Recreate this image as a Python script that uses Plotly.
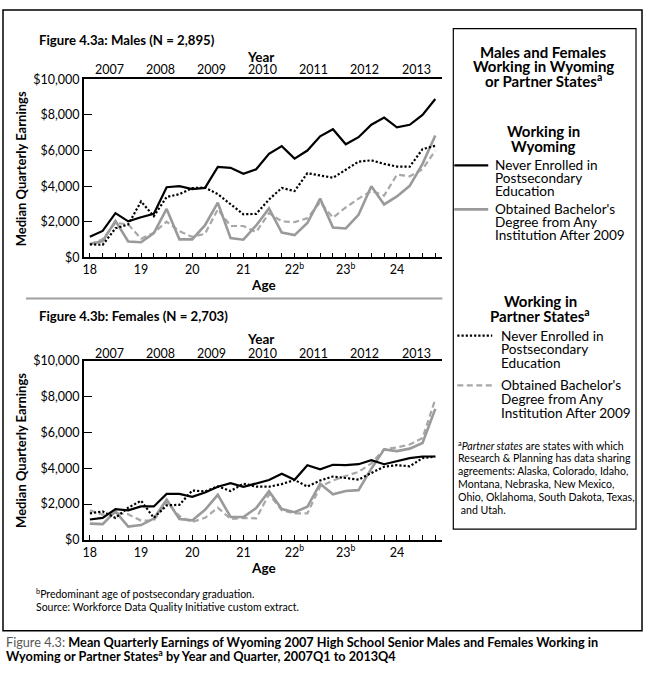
import plotly.graph_objects as go

# ---------------- data ----------------
ages = [18.0, 18.25, 18.5, 18.75, 19.0, 19.25, 19.5, 19.75, 20.0, 20.25, 20.5, 20.75,
        21.0, 21.25, 21.5, 21.75, 22.0, 22.25, 22.5, 22.75, 23.0, 23.25, 23.5, 23.75,
        24.0, 24.25, 24.5, 24.75]
age_tick_values = [18, 19, 20, 21, 22, 23, 24]
age_tick_labels = ["18", "19", "20", "21", "22<sup>b</sup>", "23<sup>b</sup>", "24"]
years = ["2007", "2008", "2009", "2010", "2011", "2012", "2013"]
year_centers = [18.375, 19.375, 20.375, 21.375, 22.375, 23.375, 24.375]
y_ticks = [0, 2000, 4000, 6000, 8000, 10000]
y_tick_labels = ["$0", "$2,000", "$4,000", "$6,000", "$8,000", "$10,000"]

# Males
m_wy_never = [1150, 1480, 2480, 2020, 2250, 2450, 3940, 4000, 3830, 3900, 5080, 5030,
              4690, 4950, 5820, 6250, 5550, 6000, 6800, 7200, 6350, 6750, 7450, 7850,
              7300, 7450, 8000, 8900]
m_wy_ba = [740, 910, 2050, 890, 850, 1360, 2720, 1010, 1010, 1810, 3070, 1080,
           990, 1790, 2750, 1390, 1250, 1930, 3300, 1670, 1620, 2390, 3990, 2970,
           3420, 4020, 5250, 6850]
m_ps_never = [730, 700, 1630, 1850, 3140, 2310, 3390, 3550, 3890, 3920, 3550, 2990,
              2420, 2440, 3250, 3900, 3720, 4730, 4590, 4470, 4920, 5380, 5450, 5250,
              5100, 5090, 6080, 6270]
m_ps_ba = [740, 1010, 1940, 1850, 1050, 1380, 2010, 1470, 1150, 1320, 2700, 1760,
           1760, 1420, 2480, 2020, 1980, 2200, 3100, 2230, 2800, 3300, 3730, 3470,
           4650, 4550, 4950, 6000]

# Females
f_wy_never = [1140, 1230, 1720, 1650, 1870, 1870, 2570, 2570, 2410, 2650, 2970, 3170,
              2960, 3170, 3350, 3700, 3360, 4170, 3940, 4200, 4180, 4230, 4450, 4230,
              4380, 4570, 4660, 4660]
f_wy_ba = [910, 880, 1590, 740, 830, 1190, 2250, 1170, 1090, 1680, 2520, 1280,
           1280, 1780, 2720, 1720, 1550, 1850, 3140, 2550, 2730, 2780, 3980, 5060,
           4960, 5100, 5420, 7320]
f_ps_never = [1480, 1590, 1230, 1800, 2190, 1230, 1930, 1960, 2760, 2710, 2990, 2730,
              3140, 2980, 2970, 3120, 3350, 2980, 3320, 3540, 3460, 3370, 3740, 4090,
              4180, 4110, 4570, 4660]
f_ps_ba = [1650, 1410, 1500, 1430, 1080, 1080, 2140, 1330, 1000, 1230, 1800, 1170,
           1230, 1200, 2550, 1660, 1480, 1480, 2980, 3320, 3570, 3800, 4280, 5060,
           5170, 5330, 5690, 7860]

# ---------------- helpers ----------------
W, H = 645, 674
FONT = "Lato, 'Open Sans', sans-serif"


def fx(px):
    return px / W


def fy(py):
    return 1 - py / H


GRAY = "#9a9a9a"
GRAY_D = "#a8a8a8"

styles = {
    "ps_ba": dict(color=GRAY_D, width=2.2, dash="6px,3.5px"),
    "wy_ba": dict(color=GRAY, width=2.6),
    "ps_never": dict(color="black", width=2.2, dash="2.2px,2px"),
    "wy_never": dict(color="black", width=2.2),
}

fig = go.Figure()

panels = [
    ("x", "y", dict(ps_ba=m_ps_ba, wy_ba=m_wy_ba, ps_never=m_ps_never, wy_never=m_wy_never)),
    ("x2", "y2", dict(ps_ba=f_ps_ba, wy_ba=f_wy_ba, ps_never=f_ps_never, wy_never=f_wy_never)),
]
for xa, ya, series in panels:
    for key in ["ps_ba", "wy_ba", "ps_never", "wy_never"]:
        fig.add_trace(go.Scatter(x=ages, y=series[key], mode="lines", line=styles[key],
                                 xaxis=xa, yaxis=ya, showlegend=False, hoverinfo="skip"))

xaxis_common = dict(
    range=[17.883, 24.887], showline=True, linecolor="black", linewidth=1.5, mirror=True,
    ticks="inside", ticklen=5, tickwidth=1.2, tickcolor="black",
    tickmode="array", tickvals=age_tick_values, ticktext=age_tick_labels,
    minor=dict(tickmode="array", tickvals=ages, ticks="inside", ticklen=5, tickwidth=1.2,
               tickcolor="black", showgrid=False),
    tickfont=dict(family=FONT, size=12.5, color="black"),
    showgrid=False, zeroline=False,
)
yaxis_common = dict(
    range=[0, 10000], showline=True, linecolor="black", linewidth=1.5,
    ticks="inside", ticklen=8, tickwidth=1.2, tickcolor="black",
    tickmode="array", tickvals=y_ticks, ticktext=y_tick_labels,
    tickfont=dict(family=FONT, size=12.5, color="black"),
    showgrid=False, zeroline=False,
)

fig.update_layout(
    width=W, height=H, autosize=False,
    margin=dict(l=0, r=0, t=0, b=0),
    paper_bgcolor="white", plot_bgcolor="white",
    xaxis=dict(domain=[fx(83), fx(442)], anchor="y", **xaxis_common),
    yaxis=dict(domain=[fy(255), fy(73)], anchor="x", **yaxis_common),
    xaxis2=dict(domain=[fx(83), fx(442)], anchor="y2", **xaxis_common),
    yaxis2=dict(domain=[fy(544), fy(361)], anchor="x2", **yaxis_common),
)

ann = []


def text(x, y, t, size=13, bold=False, xanchor="left", family=FONT, color="black",
         xref="paper", angle=0):
    ann.append(dict(x=x if xref != "paper" else fx(x), y=fy(y), xref=xref, yref="paper",
                    text=("<b>%s</b>" % t) if bold else t, showarrow=False,
                    xanchor=xanchor, yanchor="middle", textangle=angle,
                    font=dict(family=family, size=size, color=color)))


# panel texts
for (ttl, ty, yr_y, year_title_y, age_y, ycenter, xref) in [
    ("Figure 4.3a: Males (N = 2,895)", 33, 63, 50, 283, 164, "x"),
    ("Figure 4.3b: Females (N = 2,703)", 315, 353, 339, 573, 452, "x2"),
]:
    text(36, ty, ttl, size=13.2, bold=True)
    text(260, year_title_y, "Year", size=13.5, bold=True, xanchor="center")
    for yv, yc in zip(years, year_centers):
        text(yc, yr_y, yv, size=12.5, xanchor="center", xref=xref)
    text(263, age_y, "Age", size=13.5, bold=True, xanchor="center")
    text(20, ycenter, "Median Quarterly Earnings", size=13, bold=True, xanchor="center", angle=-90)

# footnotes
text(33, 599, "<sup>b</sup>Predominant age of postsecondary graduation.", size=10.5)
text(33, 613, "Source: Workforce Data Quality Initiative custom extract.", size=10.5)

# caption
text(3, 648, "<span style='color:#555555'>Figure 4.3:</span> <b>Mean Quarterly Earnings of Wyoming 2007 High School Senior Males and Females Working in</b>", size=12.7)
text(3, 662, "<b>Wyoming or Partner States<sup>a</sup> by Year and Quarter, 2007Q1 to 2013Q4</b>", size=12.7)

# legend box texts
LC = 543
text(LC, 45, "Males and Females", size=15, bold=True, xanchor="center")
text(LC, 59, "Working in Wyoming", size=15, bold=True, xanchor="center")
text(LC, 74, "or Partner States<sup>a</sup>", size=15, bold=True, xanchor="center")
text(LC, 126, "Working in", size=15, bold=True, xanchor="center")
text(LC, 141, "Wyoming", size=15, bold=True, xanchor="center")
for i, t in enumerate(["Never Enrolled in", "Postsecondary", "Education"]):
    text(493, 161 + 13.3 * i, t, size=13.6)
for i, t in enumerate(["Obtained Bachelor's", "Degree from Any", "Institution After 2009"]):
    text(493, 206 + 13.3 * i, t, size=13.6)
text(540, 300, "Working in", size=15, bold=True, xanchor="center")
text(540, 314, "Partner States<sup>a</sup>", size=15, bold=True, xanchor="center")
for i, t in enumerate(["Never Enrolled in", "Postsecondary", "Education"]):
    text(499, 335 + 14 * i, t, size=13.6)
for i, t in enumerate(["Obtained Bachelor's", "Degree from Any", "Institution After 2009"]):
    text(499, 386 + 14 * i, t, size=13.6)
foot_a = ["<sup>a</sup><i>Partner states</i> are states with which",
          "Research &amp; Planning has data sharing",
          "agreements: Alaska, Colorado, Idaho,",
          "Montana, Nebraska, New Mexico,",
          "Ohio, Oklahoma, South Dakota, Texas,",
          " and Utah."]
for i, t in enumerate(foot_a):
    text(456, 447 + 13.3 * i, t, size=10.6)

fig.update_layout(annotations=ann)

shapes = []


def line(x0, y0, x1, y1, color="black", width=1.5, dash=None):
    d = dict(color=color, width=width)
    if dash:
        d["dash"] = dash
    shapes.append(dict(type="line", xref="paper", yref="paper", x0=fx(x0), y0=fy(y0),
                       x1=fx(x1), y1=fy(y1), line=d))


# outer border
shapes.append(dict(type="rect", xref="paper", yref="paper", x0=fx(2), y0=fy(637), x1=fx(642), y1=fy(2),
                   line=dict(color="black", width=1.5)))
# legend box
shapes.append(dict(type="rect", xref="paper", yref="paper", x0=fx(453), y0=fy(533), x1=fx(636), y1=fy(21),
                   line=dict(color="black", width=1.2)))
# separator
line(25, 297, 442, 297, color="#a0a0a0", width=2)
# legend samples
line(454, 161, 488, 161, **styles["wy_never"])
line(454, 206, 488, 206, **styles["wy_ba"])
line(457, 335, 492, 335, **styles["ps_never"])
line(457, 386, 492, 386, **styles["ps_ba"])

fig.update_layout(shapes=shapes)

fig.write_html(
    "out.html",
    config={"displayModeBar": False},
    post_script="document.body.style.margin='0px';document.body.style.overflow='hidden';document.documentElement.style.overflow='hidden';",
)
